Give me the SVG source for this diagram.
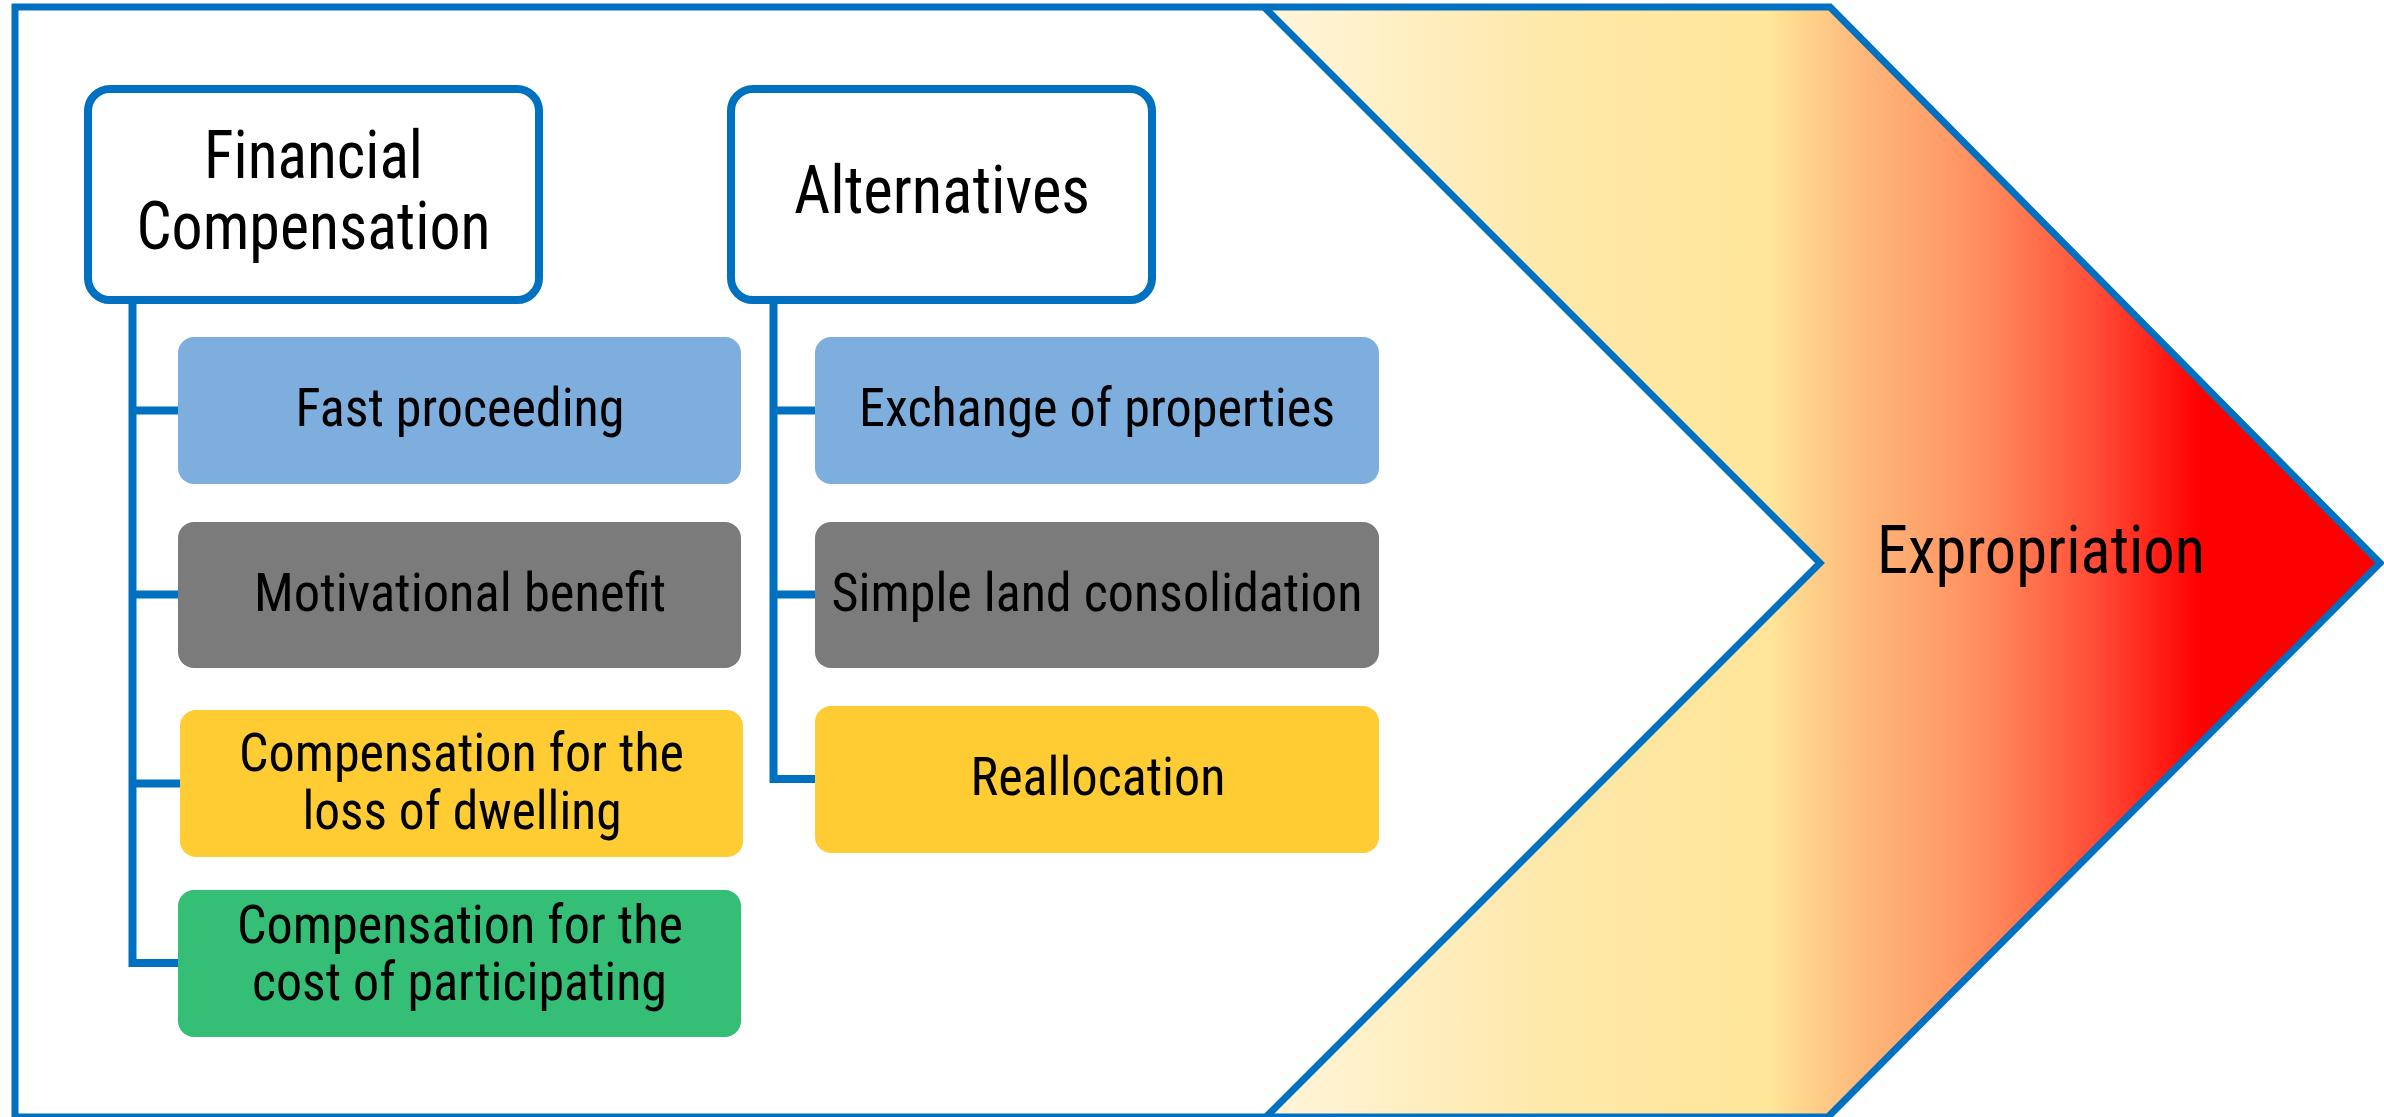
<svg xmlns="http://www.w3.org/2000/svg" width="2384" height="1117" viewBox="0 0 2384 1117">
<defs>
<linearGradient id="heat" gradientUnits="userSpaceOnUse" x1="1264" y1="0" x2="2380" y2="0">
<stop offset="0" stop-color="#FFF5DA"/>
<stop offset="0.265" stop-color="#FEE8A8"/>
<stop offset="0.453" stop-color="#FFE699"/>
<stop offset="0.48" stop-color="#FED68E"/>
<stop offset="0.534" stop-color="#FDB97B"/>
<stop offset="0.615" stop-color="#FF9A66"/>
<stop offset="0.66" stop-color="#FF8458"/>
<stop offset="0.749" stop-color="#FF4A35"/>
<stop offset="0.839" stop-color="#FF0000"/>
<stop offset="1" stop-color="#FF0000"/>
</linearGradient>
<style>
.frame{fill:none;stroke:#0070C0;stroke-width:7;stroke-linejoin:miter}
.head{fill:#FFFFFF;stroke:#0070C0;stroke-width:8}
.conn{fill:none;stroke:#0070C0;stroke-width:8;stroke-linejoin:miter}
.t{font-family:Roboto,"Liberation Sans",sans-serif;font-stretch:condensed;fill:#000;text-anchor:middle}
.th{font-size:66px}
.tc{font-size:54px}
.blue{fill:#7DAEDD}
.gray{fill:#7B7B7B}
.yellow{fill:#FFCC33}
.green{fill:#35BE76}
</style>
</defs>

<g id="background">
<path d="M1264 7 H1830 L2380 563 L1828 1117 H1266 L1820 563 Z" fill="url(#heat)"/>
<path class="frame" d="M15 7 H1830 L2380 563 L1828 1117 H15 Z"/>
<path class="frame" d="M1264 7 L1820 563 L1266 1117"/>
</g>

<g id="connectors">
<path class="conn" d="M132.5 304 V963 H180"/>
<path class="conn" d="M132.5 410.5 H180"/>
<path class="conn" d="M132.5 594.5 H180"/>
<path class="conn" d="M132.5 783.5 H182"/>
<path class="conn" d="M773.5 304 V779 H816"/>
<path class="conn" d="M773.5 410.5 H816"/>
<path class="conn" d="M773.5 594.5 H816"/>
</g>

<g id="financial-compensation">
<rect class="head" x="88" y="89" width="451" height="211" rx="22"/>
<text class="t th"><tspan x="313.5" y="177.5" textLength="219" lengthAdjust="spacingAndGlyphs">Financial</tspan><tspan x="313.5" y="248.5" textLength="354" lengthAdjust="spacingAndGlyphs">Compensation</tspan></text>
</g>

<g id="alternatives">
<rect class="head" x="731" y="89" width="421" height="211" rx="22"/>
<text class="t th" x="942" y="213" textLength="296" lengthAdjust="spacingAndGlyphs">Alternatives</text>
</g>

<g id="fast-proceeding">
<rect class="blue" x="178" y="337" width="563" height="147" rx="16"/>
<text class="t tc" x="460" y="426" textLength="329" lengthAdjust="spacingAndGlyphs">Fast proceeding</text>
</g>

<g id="motivational-benefit">
<rect class="gray" x="178" y="522" width="563" height="146" rx="16"/>
<text class="t tc" x="460" y="611" textLength="412" lengthAdjust="spacingAndGlyphs">Motivational benefit</text>
</g>

<g id="loss-of-dwelling">
<rect class="yellow" x="180" y="710" width="563" height="147" rx="16"/>
<text class="t tc"><tspan x="461.5" y="771" textLength="445" lengthAdjust="spacingAndGlyphs">Compensation for the</tspan><tspan x="462" y="829" textLength="319" lengthAdjust="spacingAndGlyphs">loss of dwelling</tspan></text>
</g>

<g id="cost-of-participating">
<rect class="green" x="178" y="890" width="563" height="147" rx="16"/>
<text class="t tc"><tspan x="460" y="943" textLength="446" lengthAdjust="spacingAndGlyphs">Compensation for the</tspan><tspan x="459.5" y="1000" textLength="415" lengthAdjust="spacingAndGlyphs">cost of participating</tspan></text>
</g>

<g id="exchange-of-properties">
<rect class="blue" x="815" y="337" width="564" height="147" rx="16"/>
<text class="t tc" x="1097" y="425.5" textLength="476" lengthAdjust="spacingAndGlyphs">Exchange of properties</text>
</g>

<g id="simple-land-consolidation">
<rect class="gray" x="815" y="522" width="564" height="146" rx="16"/>
<text class="t tc" x="1097" y="611" textLength="531" lengthAdjust="spacingAndGlyphs">Simple land consolidation</text>
</g>

<g id="reallocation">
<rect class="yellow" x="815" y="706" width="564" height="147" rx="16"/>
<text class="t tc" x="1098" y="795" textLength="255" lengthAdjust="spacingAndGlyphs">Reallocation</text>
</g>

<g id="expropriation">
<text class="t th" x="2041" y="573" textLength="328" lengthAdjust="spacingAndGlyphs">Expropriation</text>
</g>
</svg>
